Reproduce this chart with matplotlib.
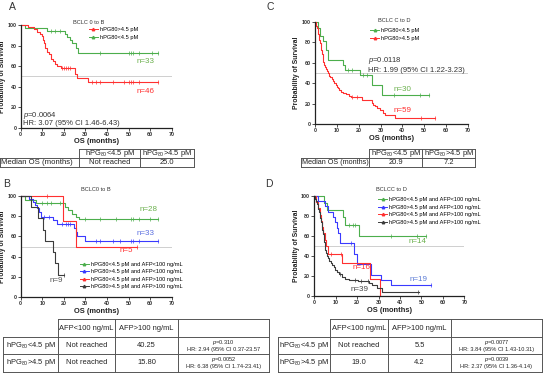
import numpy as np
import matplotlib
matplotlib.use('Agg')
import matplotlib.pyplot as plt
from matplotlib.lines import Line2D

plt.rcParams['font.family'] = ['Liberation Sans', 'DejaVu Sans']
plt.rcParams['mathtext.fontset'] = 'custom'
plt.rcParams['mathtext.rm'] = 'Liberation Sans'
plt.rcParams['mathtext.it'] = 'Liberation Sans:italic'

GREEN = '#4cae4c'
RED = '#ff3030'
BLUE = '#3a3aff'
BLACK = '#3c3c3c'

# ---------------- data ----------------
# Panel A: BCLC 0 to B
A_green_t = [2, 12, 20.5, 21.5, 23, 24, 25.5, 26.5]
A_green_s = [97, 94, 91, 88, 85, 82, 78, 72.7]
A_green_end = 63.5
A_green_cens = [14, 16, 18, 37, 50, 51, 52, 55, 61, 63.5]

A_red_t = [3.5, 6, 7.5, 9, 10, 10.5, 11, 11.5, 12, 13, 14, 15, 16, 17, 18.5, 25, 26, 31]
A_red_s = [98, 96, 93, 91, 89, 85, 82, 78, 74, 72, 67, 65, 62, 60, 58, 52, 48, 44.5]
A_red_end = 63.5
A_red_cens = [19, 20, 21, 22, 23, 33, 35, 37, 43, 48, 50, 51, 52, 55, 63.5]

# Panel C: BCLC C to D
C_green_t = [1.5, 2.3, 3.8, 4.9, 5.9, 13, 13.7, 20.6, 26, 30.5]
C_green_s = [94, 86, 81, 73, 63, 58, 53, 47.7, 38.5, 28]
C_green_end = 52
C_green_cens = [15, 17, 22, 24, 36, 48, 52]

C_red_t = [0.3, 0.6, 0.9, 1.2, 1.5, 1.8, 2.0, 2.3, 2.6, 2.9, 3.2, 3.5, 3.8, 4.2, 4.6,
           5.0, 5.4, 5.8, 6.2, 6.6, 7.0, 7.6, 8.2, 8.8, 9.4, 9.9, 10.5, 11.2, 12.0,
           12.9, 14.0, 15.5, 16.7, 21.3, 25.9, 26.6, 27.4, 28.5, 29.7, 31.0, 32.0, 36.5]
C_red_s = [98, 96, 94, 91, 88, 85, 82, 79, 76, 73, 69, 65, 61, 58, 56,
           54, 52, 50, 48, 47, 46, 44, 42, 40, 38, 36.6, 35, 33, 31,
           30, 29, 27.5, 26, 23.5, 21, 19, 18, 15.5, 13.5, 11, 9, 5.6]
C_red_end = 54.8
C_red_cens = [17, 19, 48.5, 54.8]

# Panel B: BCLC 0 to B, split by AFP
B_green_t = [2, 7, 20.5, 22, 24, 25.5, 27]
B_green_s = [96.4, 92.8, 89.2, 85.7, 82.1, 79.5, 77]
B_green_end = 63.5
B_green_cens = [10, 12, 14, 18, 30, 37, 44, 51, 52, 55, 60, 63.5]

B_blue_t = [4, 5.5, 6.5, 7.5, 8.5, 9.5, 15, 17, 24.5, 25.5, 26, 30]
B_blue_s = [97, 94, 91, 88, 84.5, 79, 76, 72.5, 68.6, 64.7, 60.8, 55.7]
B_blue_end = 63.5
B_blue_cens = [11, 13, 19, 21, 22, 23, 35, 37, 43, 46, 51, 52, 55, 63.5]

B_red_t = [19.5, 25.5]
B_red_s = [75, 50]
B_red_end = 54
B_red_cens = [12, 54]

B_black_t = [5, 8, 10.5, 11.5, 15, 16, 17.5]
B_black_s = [88.9, 77.8, 66.7, 55.6, 44.4, 33.3, 22.2]
B_black_end = 20
B_black_cens = [20]

# Panel D: BCLC C to D, split by AFP
D_green_t = [4.5, 6, 13.5, 14.5, 21]
D_green_s = [92.9, 85.7, 78.6, 71.4, 59.5]
D_green_end = 52
D_green_cens = [16, 18, 19, 36, 48, 52]

D_blue_t = [1.5, 5, 6.5, 8.5, 9.5, 10.5, 11, 12, 18.5, 20, 26.3, 31, 36]
D_blue_s = [94.7, 89.5, 84.2, 78.9, 73.7, 68.4, 63.2, 52.6, 42.1, 31.6, 21, 15.8, 10.5]
D_blue_end = 54.5
D_blue_cens = [17, 54.5]

D_red_t = [1, 1.8, 2.5, 3, 3.5, 4.2, 5, 5.5, 6.2, 13, 26, 30.5]
D_red_s = [93.75, 87.5, 81.25, 75, 68.75, 62.5, 56.25, 50, 41.7, 33.3, 16.7, 0]
D_red_end = 30.5
D_red_cens = [8, 12.5]

D_black_t = [0.5, 1, 1.3, 1.6, 1.9, 2.2, 2.5, 2.8, 3.1, 3.4, 3.7, 4.0, 4.3, 4.6, 4.9,
             5.2, 5.6, 6.0, 6.5, 7.0, 7.6, 8.3, 9.0, 9.8, 10.6, 11.5, 13.0, 14.5,
             16.1, 20.5, 25.5, 27.0, 29.4, 31.7]
D_black_s = [97, 95, 92, 90, 87, 84, 81, 78, 74, 70, 66, 62, 58, 54, 50,
             46, 43, 40, 37.5, 35, 33, 30.5, 28.5, 26, 24, 22, 19, 17,
             15.5, 14.5, 12.5, 10.5, 7.5, 4.2]
D_black_end = 49
D_black_cens = [12, 19, 22, 25, 48.5]

HPG_LO = 'hPG80<4.5 pM'
HPG_HI = 'hPG80>4.5 pM'
AFP_LABELS = ['hPG80<4.5 pM and AFP<100 ng/mL', 'hPG80>4.5 pM and AFP<100 ng/mL',
              'hPG80<4.5 pM and AFP>100 ng/mL', 'hPG80>4.5 pM and AFP>100 ng/mL']

TXT = '#333333'


def km_line(ax, t, s, end, cens, color):
    x = np.concatenate([[0], t, [end]])
    y = np.concatenate([[100], s, [s[-1]]])
    ax.step(x, y, where='post', color=color, lw=0.8, clip_on=False)
    idx = np.searchsorted(x, cens, side='right') - 1
    ax.plot(cens, y[idx], '|', ms=2.2, mew=0.5, color=color, clip_on=False)


def style_ax(ax):
    ax.set_xlim(0, 70)
    ax.set_ylim(0, 100)
    ax.set_xticks(range(0, 71, 10))
    ax.set_yticks(range(0, 101, 20))
    for sp in ['top', 'right']:
        ax.spines[sp].set_visible(False)
    for sp in ['left', 'bottom']:
        ax.spines[sp].set_linewidth(0.9)
        ax.spines[sp].set_color('#222222')
    ax.tick_params(length=2, width=0.6, labelsize=3.9, pad=1, colors='#333333')
    for lab in ax.get_xticklabels() + ax.get_yticklabels():
        lab.set_fontweight('bold')
    ax.axhline(50, color='#c8c8c8', lw=0.6, zorder=0)
    ax.set_xlabel('OS (months)', fontsize=5.4, fontweight='bold', labelpad=1, color='#222222')
    ax.set_ylabel('Probability of Survival', fontsize=4.9, fontweight='bold', labelpad=1,
                  color='#222222')


def legend(ax, colors, labels, anchor, title, title_xy, spacing=0.45):
    handles = [Line2D([0], [0], color=c, lw=0.7, marker='^', ms=1.8) for c in colors]
    ax.legend(handles, labels, loc='upper left', bbox_to_anchor=anchor, frameon=False,
              fontsize=4.1, handlelength=1.6, handletextpad=0.4, labelspacing=spacing,
              borderpad=0, borderaxespad=0)
    ax.text(title_xy[0], title_xy[1], title, transform=ax.transAxes, fontsize=4.1,
            ha='left', va='center', color=TXT)


def sub80(s):
    return s.replace('hPG80', 'hPG$_{80}$')


fig = plt.figure(figsize=(5.5, 3.75), dpi=100)

# ---- A ----
axA = fig.add_axes([0.0376, 0.6595, 0.2745, 0.2739])
km_line(axA, A_green_t, A_green_s, A_green_end, A_green_cens, GREEN)
km_line(axA, A_red_t, A_red_s, A_red_end, A_red_cens, RED)
style_ax(axA)
legend(axA, [RED, GREEN], [HPG_HI, HPG_LO], (0.45, 0.98), 'BCLC 0 to B', (0.345, 1.02))
axA.text(1.2, 11.4, '$p$=0.0064', fontsize=5.5, va='center', color=TXT)
axA.text(1.2, 3.6, 'HR: 3.07 (95% CI 1.46-6.43)', fontsize=5.5, va='center', color=TXT)
axA.text(53.5, 64, 'n=33', fontsize=5.8, color='#6ab04c', va='center')
axA.text(53.5, 35.7, 'n=46', fontsize=5.8, color=RED, va='center')

# ---- C ----
axC = fig.add_axes([0.5727, 0.6693, 0.2782, 0.272])
km_line(axC, C_green_t, C_green_s, C_green_end, C_green_cens, GREEN)
km_line(axC, C_red_t, C_red_s, C_red_end, C_red_cens, RED)
style_ax(axC)
legend(axC, [GREEN, RED], [HPG_LO, HPG_HI], (0.36, 0.94), 'BCLC C to D', (0.41, 1.013))
axC.text(24.4, 62.7, '$p$=0.0118', fontsize=5.5, va='center', color=TXT)
axC.text(24.4, 52.3, 'HR: 1.99 (95% CI 1.22-3.23)', fontsize=5.5, va='center', color=TXT)
axC.text(35.8, 34, 'n=30', fontsize=5.8, color='#6ab04c', va='center')
axC.text(35.8, 13, 'n=59', fontsize=5.8, color=RED, va='center')

# ---- B ----
axB = fig.add_axes([0.0376, 0.208, 0.2745, 0.2693])
km_line(axB, B_green_t, B_green_s, B_green_end, B_green_cens, GREEN)
km_line(axB, B_blue_t, B_blue_s, B_blue_end, B_blue_cens, BLUE)
km_line(axB, B_red_t, B_red_s, B_red_end, B_red_cens, RED)
km_line(axB, B_black_t, B_black_s, B_black_end, B_black_cens, BLACK)
style_ax(axB)
legend(axB, [GREEN, BLUE, RED, BLACK], AFP_LABELS, (0.39, 0.35), 'BCLC0 to B', (0.40, 1.06))
axB.text(55, 87, 'n=28', fontsize=5.8, color='#6ab04c', va='center')
axB.text(53.8, 63, 'n=33', fontsize=5.8, color='#5b6fe0', va='center')
axB.text(45.7, 45.8, 'n=5', fontsize=5.8, color=RED, va='center')
axB.text(13.6, 16.8, 'n=9', fontsize=5.8, color='#555555', va='center')

# ---- D ----
axD = fig.add_axes([0.5715, 0.2107, 0.2727, 0.2667])
km_line(axD, D_green_t, D_green_s, D_green_end, D_green_cens, GREEN)
km_line(axD, D_blue_t, D_blue_s, D_blue_end, D_blue_cens, BLUE)
km_line(axD, D_red_t, D_red_s, D_red_end, D_red_cens, RED)
km_line(axD, D_black_t, D_black_s, D_black_end, D_black_cens, BLACK)
style_ax(axD)
legend(axD, [GREEN, BLUE, RED, BLACK], AFP_LABELS, (0.425, 0.99), 'BCLCC to D', (0.41, 1.06))
axD.text(43.9, 54.3, 'n=14', fontsize=5.8, color='#6ab04c', va='center')
axD.text(17.7, 28.7, 'n=16', fontsize=5.8, color=RED, va='center')
axD.text(44.2, 16.7, 'n=19', fontsize=5.8, color='#5b7bd5', va='center')
axD.text(17.1, 6.7, 'n=39', fontsize=5.8, color='#444444', va='center')

# ---- overlay for panel letters and tables (pixel coordinates) ----
ov = fig.add_axes([0, 0, 1, 1], zorder=-1)
ov.set_xlim(0, 550)
ov.set_ylim(375, 0)
ov.axis('off')
for letter, (lx, ly) in zip('ABCD', [(12, 7), (7, 184), (270, 7), (269, 184)]):
    ov.text(lx, ly, letter, fontsize=7.5, ha='center', va='center', color=TXT)


def draw_table(cols, rows, lw=0.7, color='#555555'):
    # header corner cell is left open
    for i, y in enumerate(rows):
        x0 = cols[1] if i == 0 else cols[0]
        ov.plot([x0, cols[-1]], [y, y], color=color, lw=lw)
    for j, x in enumerate(cols):
        y0 = rows[1] if j == 0 else rows[0]
        ov.plot([x, x], [y0, rows[-1]], color=color, lw=lw)


def cell_text(cols, rows, i, j, s, size=5.4, ha='center'):
    x = (cols[j] + cols[j + 1]) / 2 if ha == 'center' else cols[j] + 1.0
    y = (rows[i] + rows[i + 1]) / 2
    ov.text(x, y, s, fontsize=size, ha=ha, va='center', color='#222222')


def stat_cell(cols, rows, i, j, p, hr):
    x = (cols[j] + cols[j + 1]) / 2
    h = rows[i + 1] - rows[i]
    ov.text(x, rows[i] + h * 0.3, p, fontsize=4.1, ha='center', va='center', color='#222222')
    ov.text(x, rows[i] + h * 0.72, hr, fontsize=4.1, ha='center', va='center', color='#222222')


# table A
colsA = [0, 79, 140, 194]
rowsA = [149, 158, 167]
draw_table(colsA, rowsA)
cell_text(colsA, rowsA, 0, 1, sub80(HPG_LO))
cell_text(colsA, rowsA, 0, 2, sub80(HPG_HI))
cell_text(colsA, rowsA, 1, 0, 'Median OS (months)', size=5.6, ha='left')
cell_text(colsA, rowsA, 1, 1, 'Not reached')
cell_text(colsA, rowsA, 1, 2, '25.0')

# table C
colsC = [301, 369, 422, 475]
rowsC = [149, 158, 167]
draw_table(colsC, rowsC)
cell_text(colsC, rowsC, 0, 1, sub80(HPG_LO))
cell_text(colsC, rowsC, 0, 2, sub80(HPG_HI))
cell_text(colsC, rowsC, 1, 0, 'Median OS (months)', size=5.2, ha='left')
cell_text(colsC, rowsC, 1, 1, '20.9')
cell_text(colsC, rowsC, 1, 2, '7.2')

# table B
colsB = [3, 58, 115, 178, 269]
rowsB = [319, 337, 354, 371.5]
draw_table(colsB, rowsB)
cell_text(colsB, rowsB, 0, 1, 'AFP<100 ng/mL')
cell_text(colsB, rowsB, 0, 2, 'AFP>100 ng/mL')
cell_text(colsB, rowsB, 1, 0, sub80(HPG_LO))
cell_text(colsB, rowsB, 2, 0, sub80(HPG_HI))
cell_text(colsB, rowsB, 1, 1, 'Not reached')
cell_text(colsB, rowsB, 1, 2, '40.25')
cell_text(colsB, rowsB, 2, 1, 'Not reached')
cell_text(colsB, rowsB, 2, 2, '15.80')
stat_cell(colsB, rowsB, 1, 3, '$p$=0.310', 'HR: 2.94 (95% CI 0.37-23.57')
stat_cell(colsB, rowsB, 2, 3, '$p$=0.0052', 'HR: 6.38 (95% CI 1.74-23.41)')

# table D
colsD = [278, 330, 388, 451, 542]
rowsD = [319, 337, 354, 371.5]
draw_table(colsD, rowsD)
cell_text(colsD, rowsD, 0, 1, 'AFP<100 ng/mL')
cell_text(colsD, rowsD, 0, 2, 'AFP>100 ng/mL')
cell_text(colsD, rowsD, 1, 0, sub80(HPG_LO))
cell_text(colsD, rowsD, 2, 0, sub80(HPG_HI))
cell_text(colsD, rowsD, 1, 1, 'Not reached')
cell_text(colsD, rowsD, 1, 2, '5.5')
cell_text(colsD, rowsD, 2, 1, '19.0')
cell_text(colsD, rowsD, 2, 2, '4.2')
stat_cell(colsD, rowsD, 1, 3, '$p$=0.0077', 'HR: 3.84 (95% CI 1.43-10.31)')
stat_cell(colsD, rowsD, 2, 3, '$p$=0.0039', 'HR: 2.37 (95% CI 1.36-4.14)')

fig.savefig('out.png', dpi=100)
